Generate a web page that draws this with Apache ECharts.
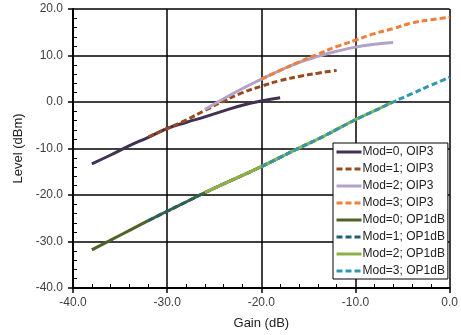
<!DOCTYPE html>
<html>
<head>
<meta charset="utf-8">
<script src="https://cdn.jsdelivr.net/npm/echarts@6/dist/echarts.min.js"></script>
<style>
  html, body { margin: 0; padding: 0; background: #fff; }
  #chart { width: 461px; height: 335px; }
</style>
</head>
<body>
<div id="chart"></div>
<script>
// gain (x) ranges for each mod setting
const gainMod0 = [-38, -36, -34, -32, -30, -28, -26, -24, -22, -20, -18];
const gainMod1 = [-32, -30, -28, -26, -24, -22, -20, -18, -16, -14, -12];
const gainMod2 = [-26, -24, -22, -20, -18, -16, -14, -12, -10, -8, -6];
const gainMod3 = [-20, -18, -16, -14, -12, -10, -8, -6, -4, -2, 0];

// OIP3 levels (dBm)
const oip3Mod0 = [-13.3, -11.4, -9.4, -7.6, -5.7, -4.4, -3.2, -1.9, -0.7, 0.2, 0.9];
const oip3Mod1 = [-7.5, -5.7, -3.9, -1.8, 0.2, 2.0, 3.4, 4.6, 5.5, 6.2, 6.8];
const oip3Mod2 = [-1.6, 0.7, 2.9, 4.9, 6.8, 8.5, 9.8, 10.9, 11.8, 12.4, 12.8];
const oip3Mod3 = [4.9, 6.8, 8.6, 10.3, 11.9, 13.3, 14.7, 15.8, 17.0, 17.7, 18.2];

// OP1dB levels (dBm)
const op1Mod0 = [-31.8, -29.7, -27.6, -25.5, -23.5, -21.5, -19.5, -17.6, -15.8, -13.9, -11.9];
const op1Mod1 = [-25.5, -23.5, -21.5, -19.5, -17.6, -15.8, -13.9, -11.9, -9.9, -8.0, -5.9];
const op1Mod2 = [-19.5, -17.6, -15.8, -13.9, -11.9, -9.9, -8.0, -5.9, -3.8, -1.9, 0.0];
const op1Mod3 = [-13.9, -11.9, -9.9, -8.0, -5.9, -3.8, -1.9, 0.0, 1.8, 3.6, 5.3];

const seriesNames = [
  'Mod=0, OIP3', 'Mod=1; OIP3', 'Mod=2; OIP3', 'Mod=3; OIP3',
  'Mod=0; OP1dB', 'Mod=1; OP1dB', 'Mod=2; OP1dB', 'Mod=3; OP1dB'
];
const seriesGain = [gainMod0, gainMod1, gainMod2, gainMod3, gainMod0, gainMod1, gainMod2, gainMod3];
const seriesLevel = [oip3Mod0, oip3Mod1, oip3Mod2, oip3Mod3, op1Mod0, op1Mod1, op1Mod2, op1Mod3];
const seriesColor = ['#403152', '#984a1e', '#b3a2c7', '#f07f3a', '#4f6228', '#215f6e', '#8fb045', '#2f98b0'];
const seriesDashed = [false, true, false, true, false, true, false, true];

function zip(xs, ys) {
  return xs.map((x, i) => [x, ys[i]]);
}

const series = seriesNames.map((name, i) => ({
  name: name,
  type: 'line',
  data: zip(seriesGain[i], seriesLevel[i]),
  smooth: true,
  showSymbol: false,
  symbol: 'none',
  lineStyle: {
    color: seriesColor[i],
    width: 3,
    type: seriesDashed[i] ? [6, 3] : 'solid'
  },
  itemStyle: { color: seriesColor[i] }
}));

const axisFont = { fontFamily: 'Liberation Sans', fontSize: 12, color: '#404040' };

const chart = echarts.init(document.getElementById('chart'));
chart.setOption({
  animation: false,
  backgroundColor: '#fff',
  grid: { left: 73, right: 8, top: 9, bottom: 45, containLabel: false },
  xAxis: {
    type: 'value',
    min: -40, max: 0, interval: 10,
    name: 'Gain (dB)',
    nameLocation: 'middle',
    nameGap: 29,
    nameTextStyle: { fontFamily: 'Liberation Sans', fontSize: 13, color: '#222' },
    axisLine: { show: true, onZero: false, lineStyle: { color: '#000', width: 2 } },
    axisTick: { show: true, length: 5, lineStyle: { color: '#000', width: 1.5 } },
    minorTick: { show: true, splitNumber: 5, length: -4, lineStyle: { color: '#000', width: 1 } },
    splitLine: { show: true, lineStyle: { color: '#000', width: 1.5 } },
    axisLabel: Object.assign({ margin: 9, formatter: v => v.toFixed(1) }, axisFont)
  },
  yAxis: {
    type: 'value',
    min: -40, max: 20, interval: 10,
    name: 'Level (dBm)',
    nameLocation: 'middle',
    nameGap: 42,
    nameTextStyle: { fontFamily: 'Liberation Sans', fontSize: 13, color: '#222' },
    axisLine: { show: true, onZero: false, lineStyle: { color: '#000', width: 2 } },
    axisTick: { show: true, length: 5, lineStyle: { color: '#000', width: 1.5 } },
    minorTick: { show: true, splitNumber: 5, length: -4, lineStyle: { color: '#000', width: 1 } },
    splitLine: { show: true, lineStyle: { color: '#000', width: 1.5 } },
    axisLabel: Object.assign({ margin: 10, formatter: v => v.toFixed(1) }, axisFont)
  },
  legend: {
    orient: 'vertical',
    left: 333, top: 143,
    data: seriesNames,
    itemWidth: 25, itemHeight: 12, itemGap: 5,
    padding: [3, 3, 2, 2],
    backgroundColor: '#fff',
    borderColor: '#000', borderWidth: 1,
    itemStyle: { opacity: 0 },
    lineStyle: { width: 3 },
    textStyle: { fontFamily: 'Liberation Sans', fontSize: 12, color: '#222', padding: [0, 0, 0, -4] }
  },
  series: series
});
</script>
</body>
</html>
